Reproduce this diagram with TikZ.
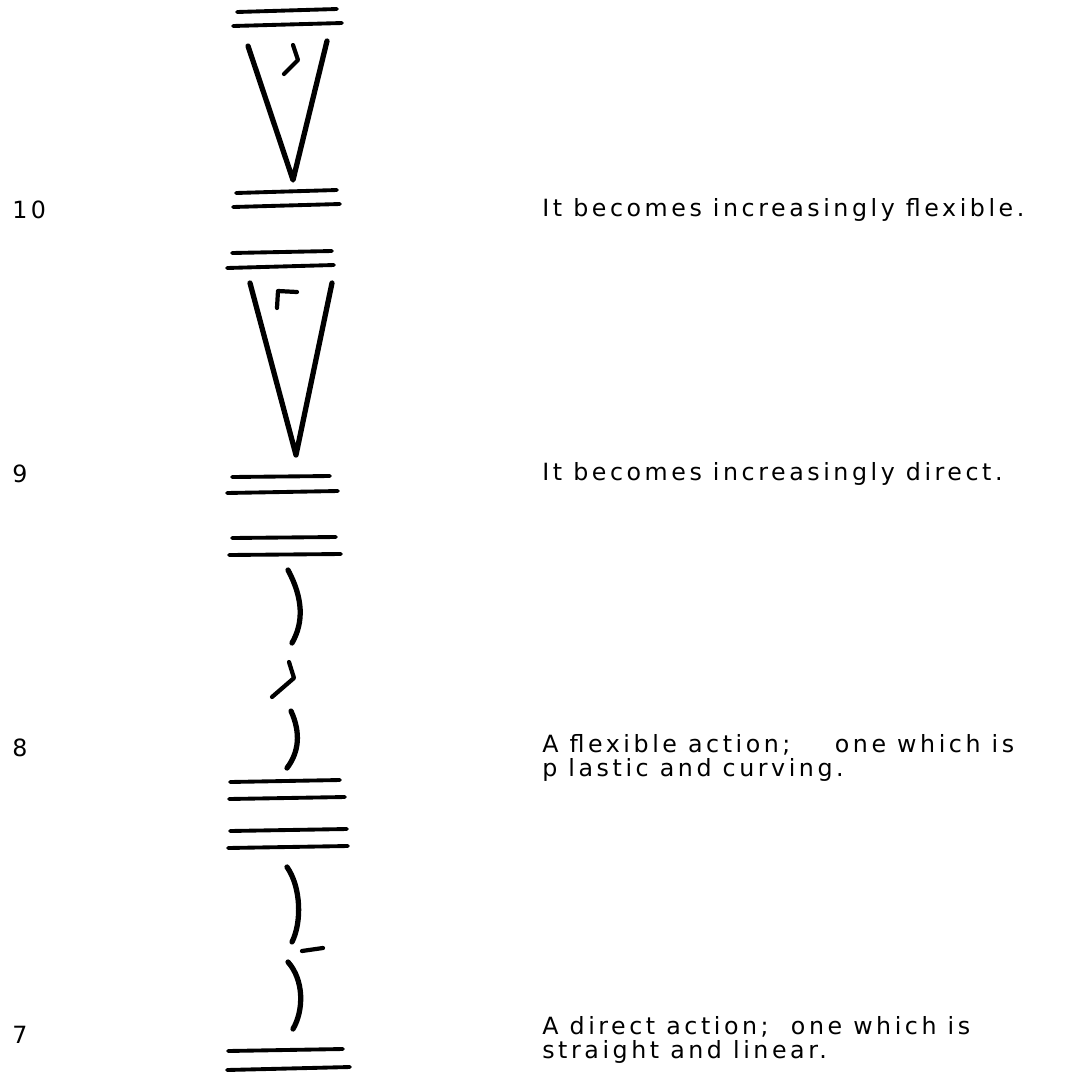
\documentclass[tikz,border=0pt]{standalone}
\usepackage{fontspec}
\setmainfont{DejaVu Sans}
\newfontfamily\typefont[LetterSpace=15]{DejaVu Sans}
\usepackage{tikz}
\usetikzlibrary{positioning}

\tikzset{
  bar/.style={line width=2.2pt, line cap=round},
  stroke/.style={line width=3pt, line cap=round, line join=round},
  tick/.style={line width=2.4pt, line cap=round, line join=round},
  numlabel/.style={anchor=west, inner sep=0pt, font=\typefont\fontsize{13.5}{14}\selectfont},
  desc/.style={anchor=west, inner sep=0pt, align=left, font=\typefont\fontsize{13.5}{13.8}\selectfont}
}

\begin{document}
\begin{tikzpicture}[x=0.02cm, y=-0.02cm]
      \useasboundingbox (0,0) rectangle (1072,1076);
      % Level 10
      \draw[bar] (237,12) -- (337,9);
      \draw[bar] (233,26) -- (342,23);
      \draw[stroke] (248,46) -- (293,180) -- (327,41);
      \draw[tick] (293,45) -- (298,60) -- (284,74);
      \draw[bar] (236,193) -- (337,190);
      \draw[bar] (233,207) -- (340,204);
      % Level 9
      \draw[bar] (232,253) -- (332,251);
      \draw[bar] (227,268) -- (334,265);
      \draw[stroke] (250,283) -- (296,455) -- (332,283);
      \draw[tick] (277,308) -- (278,291) -- (297,292);
      \draw[bar] (232,477) -- (330,476);
      \draw[bar] (227,493) -- (338,491);
      % Level 8
      \draw[bar] (232,538) -- (336,537);
      \draw[bar] (229,555) -- (341,554);
      \draw[stroke] (288,570) .. controls (303,598) and (304,622) .. (292,643);
      \draw[tick] (289,662) -- (294,678) -- (272,697);
      \draw[stroke] (291,711) .. controls (301,733) and (299,752) .. (287,768);
      \draw[bar] (230,782) -- (340,780);
      \draw[bar] (229,799) -- (345,797);
      % Level 7
      \draw[bar] (230,831) -- (347,829);
      \draw[bar] (228,848) -- (348,846);
      \draw[stroke] (287,867) .. controls (301,887) and (302,922) .. (292,942);
      \draw[tick] (302,951) -- (323,948);
      \draw[stroke] (288,962) .. controls (304,980) and (304,1010) .. (293,1029);
      \draw[bar] (228,1051) -- (343,1049);
      \draw[bar] (227,1070) -- (350,1067);
      % Numbers
      \node[numlabel] (n10) at (12,210) {10};
      \node[numlabel] (n9) at (12,474) {9};
      \node[numlabel] (n8) at (12,748) {8};
      \node[numlabel] (n7) at (12,1035) {7};
      % Descriptions
      \node[desc] (d10) at (542,210) {It becomes increasingly flexible.};
      \node[desc] (d9) at (542,474) {It becomes increasingly direct.};
      \node[desc] (d8) at (542,758) {A flexible action;\ \ \ \ one which is\\p lastic and curving.};
      \node[desc] (d7) at (542,1040) {A direct action;\ \ one which is\\straight and linear.};
\end{tikzpicture}
\end{document}
